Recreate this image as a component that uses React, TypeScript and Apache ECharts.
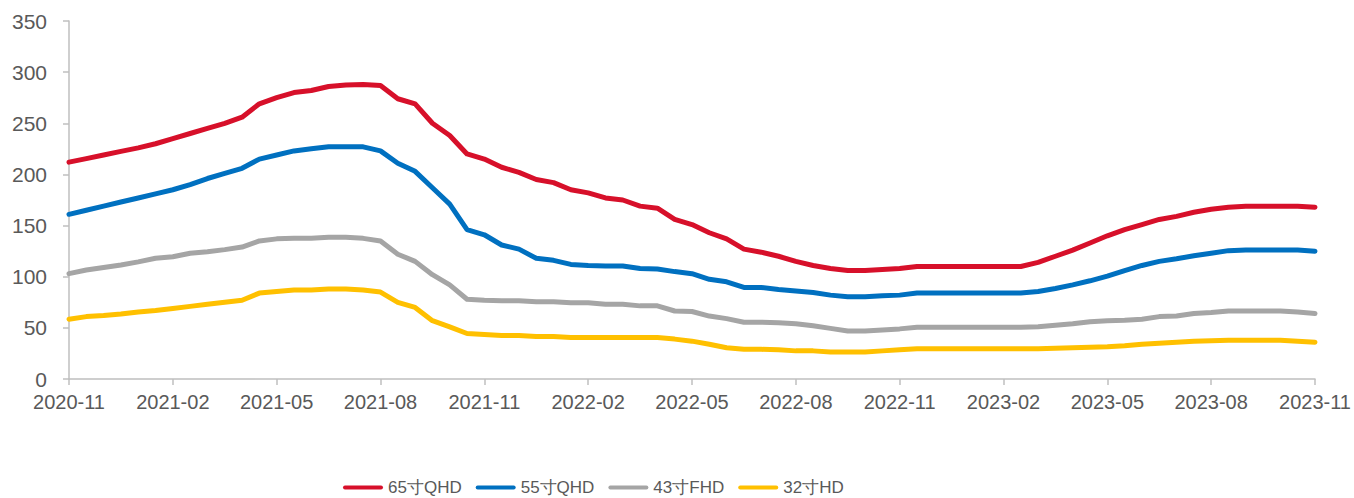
import React, { useEffect, useRef } from "react";
import * as echarts from "echarts";

const xDates = [
  "2020-11-01", "2020-11-16", "2020-12-01", "2020-12-16",
  "2021-01-01", "2021-01-16", "2021-02-01", "2021-02-16", "2021-03-01", "2021-03-16",
  "2021-04-01", "2021-04-16", "2021-05-01", "2021-05-16", "2021-06-01", "2021-06-16",
  "2021-07-01", "2021-07-16", "2021-08-01", "2021-08-16", "2021-09-01", "2021-09-16",
  "2021-10-01", "2021-10-16", "2021-11-01", "2021-11-16", "2021-12-01", "2021-12-16",
  "2022-01-01", "2022-01-16", "2022-02-01", "2022-02-16", "2022-03-01", "2022-03-16",
  "2022-04-01", "2022-04-16", "2022-05-01", "2022-05-16", "2022-06-01", "2022-06-16",
  "2022-07-01", "2022-07-16", "2022-08-01", "2022-08-16", "2022-09-01", "2022-09-16",
  "2022-10-01", "2022-10-16", "2022-11-01", "2022-11-16", "2022-12-01", "2022-12-16",
  "2023-01-01", "2023-01-16", "2023-02-01", "2023-02-16", "2023-03-01", "2023-03-16",
  "2023-04-01", "2023-04-16", "2023-05-01", "2023-05-16", "2023-06-01", "2023-06-16",
  "2023-07-01", "2023-07-16", "2023-08-01", "2023-08-16", "2023-09-01", "2023-09-16",
  "2023-10-01", "2023-10-16", "2023-11-01",
];

const tv65 = [
  212, 215.5, 219, 222.5, 226, 230, 235, 240, 245, 250,
  256, 269, 275, 280, 282, 286, 287.5, 288, 287, 274,
  269, 250, 238, 220, 215, 207, 202, 195, 192, 185,
  182, 177, 175, 169, 167, 156, 151, 143, 137, 127,
  124, 120, 115, 111, 108, 106, 106, 107, 108, 110,
  110, 110, 110, 110, 110, 110, 114, 120, 126, 133,
  140, 146, 151, 156, 159, 163, 166, 168, 169, 169,
  169, 169, 168,
];

const tv55 = [
  161, 165, 169, 173, 177, 181, 185, 190, 196, 201,
  206, 215, 219, 223, 225, 227, 227, 227, 223, 211,
  203, 187, 171, 146, 141, 131, 127, 118, 116, 112,
  111, 110.5, 110.5, 108, 107.5, 105, 103, 97.5, 95, 89.5,
  89.5, 87.5, 86, 84.5, 82, 80.5, 80.5, 81.5, 82, 84,
  84, 84, 84, 84, 84, 84, 85.5, 88.5, 92, 96,
  100.5, 106, 111, 115, 117.5, 120.5, 123, 125.5, 126, 126,
  126, 126, 125,
];

const tv43 = [
  103, 106.5, 109, 111.5, 114.5, 118, 119.5, 123, 124.5, 126.5,
  129, 135, 137, 137.5, 137.5, 138.5, 138.5, 137.5, 135, 122,
  115, 102, 92, 78, 77, 76.5, 76.5, 75.5, 75.5, 74.5,
  74.5, 73, 73, 71.5, 71.5, 66.5, 66, 61.5, 59, 55.5,
  55.5, 55, 54, 52, 49.5, 47, 47, 48, 49, 50.5,
  50.5, 50.5, 50.5, 50.5, 50.5, 50.5, 51, 52.5, 54, 56,
  57, 57.5, 58.5, 61, 61.5, 64, 65, 66.5, 66.5, 66.5,
  66.5, 65.5, 64,
];

const tv32 = [
  58.5, 61, 62, 63.5, 65.5, 67, 69, 71, 73, 75,
  77, 84, 85.5, 87, 87, 88, 88, 87, 85, 75,
  70, 57, 51, 44.5, 43.5, 42.5, 42.5, 41.5, 41.5, 40.5,
  40.5, 40.5, 40.5, 40.5, 40.5, 39, 37, 34, 30.5, 29,
  29, 28.5, 27.5, 27.5, 26.5, 26.5, 26.5, 27.5, 28.5, 29.5,
  29.5, 29.5, 29.5, 29.5, 29.5, 29.5, 29.5, 30, 30.5, 31,
  31.5, 32.5, 34, 35, 36, 37, 37.5, 38, 38, 38,
  38, 37, 36,
];

const seriesNames = ["65寸QHD", "55寸QHD", "43寸FHD", "32寸HD"];
const seriesColors = ["#D7102A", "#0070C0", "#A5A5A5", "#FFC000"];
const seriesData = [tv65, tv55, tv43, tv32];

const START_YEAR = 2020;
const START_MONTH = 11;

function monthOffset(d: string): number {
  const [y, m, day] = d.split("-").map(Number);
  return (y - START_YEAR) * 12 + (m - START_MONTH) + (day >= 16 ? 0.5 : 0);
}

function offsetLabel(v: number): string {
  const total = START_MONTH - 1 + Math.round(v);
  const y = START_YEAR + Math.floor(total / 12);
  const m = (total % 12) + 1;
  return `${y}-${m < 10 ? "0" + m : m}`;
}

export default function App() {
  const ref = useRef<HTMLDivElement>(null);

  useEffect(() => {
    if (!ref.current) return;
    const chart = echarts.init(ref.current, undefined, { renderer: "svg" });
    const font = "'Liberation Sans', Arial, sans-serif";
    chart.setOption({
      animation: false,
      backgroundColor: "#ffffff",
      grid: { left: 69, right: 39, top: 21, height: 358, containLabel: false },
      legend: {
        left: 343,
        top: 479,
        padding: 0,
        itemWidth: 40,
        itemHeight: 10,
        itemGap: 14,
        icon: "path://M2,0 L38,0 A2,2 0 0 1 38,4 L2,4 A2,2 0 0 1 2,0 Z",
        textStyle: {
          color: "#595959",
          fontSize: 17,
          fontFamily: font,
        },
        data: seriesNames,
      },
      xAxis: {
        type: "value",
        min: 0,
        max: 36,
        interval: 3,
        splitLine: { show: false },
        axisLine: { show: true, lineStyle: { color: "#BFBFBF", width: 1.5 } },
        axisTick: { show: true, length: 6, lineStyle: { color: "#BFBFBF", width: 1.5 } },
        axisLabel: {
          color: "#595959",
          fontSize: 20,
          fontFamily: font,
          margin: 13,
          showMinLabel: true,
          showMaxLabel: true,
          formatter: (v: number) => offsetLabel(v),
        },
      },
      yAxis: {
        type: "value",
        min: 0,
        max: 350,
        interval: 50,
        splitLine: { show: false },
        axisLine: { show: true, lineStyle: { color: "#BFBFBF", width: 1.5 } },
        axisTick: { show: true, length: 6, lineStyle: { color: "#BFBFBF", width: 1.5 } },
        axisLabel: {
          color: "#595959",
          fontSize: 21,
          fontFamily: font,
          margin: 22,
        },
      },
      series: seriesNames.map((name, k) => ({
        name,
        type: "line",
        symbol: "none",
        smooth: false,
        color: seriesColors[k],
        lineStyle: { width: 5, color: seriesColors[k], cap: "round", join: "round" },
        data: seriesData[k].map((v, i) => [monthOffset(xDates[i]), v]),
      })),
    });
    return () => chart.dispose();
  }, []);

  return (
    <div
      ref={ref}
      style={{ position: "fixed", left: 0, top: 0, width: 1354, height: 498, background: "#fff" }}
    />
  );
}
